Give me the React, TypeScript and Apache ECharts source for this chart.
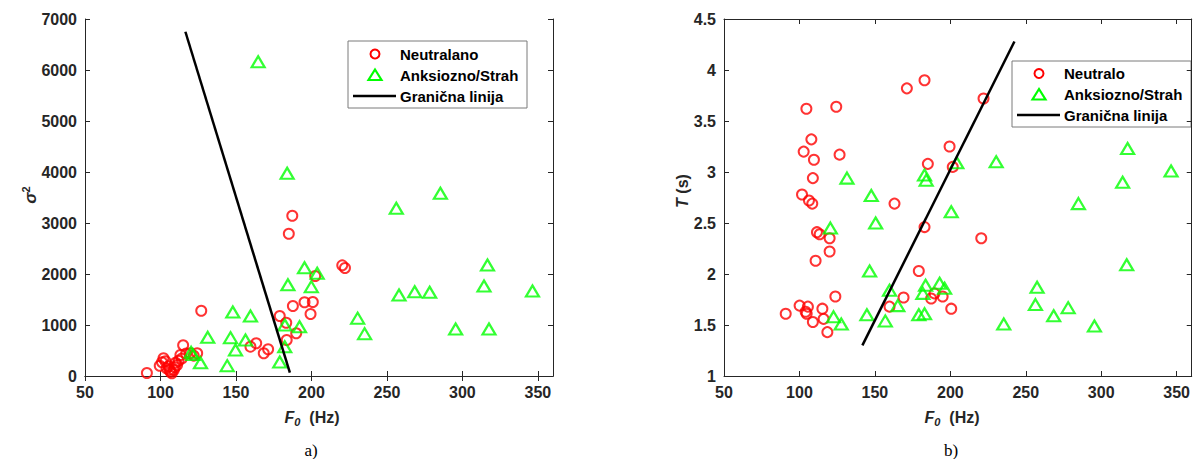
import React, { useEffect, useRef } from "react";
import * as echarts from "echarts";

const xTicks = [50, 100, 150, 200, 250, 300, 350];
const sigmaTicks = [0, 1000, 2000, 3000, 4000, 5000, 6000, 7000];
const tTicks = [1, 1.5, 2, 2.5, 3, 3.5, 4, 4.5];

const leftNames = ["Neutralano", "Anksiozno/Strah", "Granična linija"];
const rightNames = ["Neutralo", "Anksiozno/Strah", "Granična linija"];

// a) F0 (Hz) vs sigma^2
const leftNeutral: [number, number][] = [
  [91, 60], [99.5, 200], [101, 270], [102, 347], [103.3, 290], [104, 150],
  [105.4, 190], [106, 120], [106.6, 84], [107.5, 55], [108.8, 118], [109.5, 170],
  [110, 260], [111, 216], [112, 300], [113.2, 412], [114, 340], [115, 602],
  [117, 440], [119.8, 445], [122, 400], [124.3, 445], [127, 1280],
  [159.6, 575], [163.4, 641], [168.4, 445], [171.3, 524], [179, 1176],
  [183.3, 1045], [183.6, 706], [185, 2790], [187.3, 3143], [187.7, 1373],
  [189.9, 837], [195.4, 1445], [199.4, 1216], [200.9, 1451], [202.5, 1961],
  [220.4, 2170], [222.2, 2118],
];
const leftAnx: [number, number][] = [
  [120.3, 464], [121.5, 420], [126.5, 261], [131.3, 758], [144.2, 203],
  [146.4, 752], [147.9, 1255], [149.7, 510], [156.3, 706], [159.6, 1176],
  [164.7, 6163], [179, 275], [182.3, 575], [182.4, 1000], [183.9, 3974],
  [184.4, 1790], [192.1, 967], [195.4, 2124], [199.9, 1752], [203.8, 2014],
  [230.6, 1134], [235.2, 830], [256.2, 3288], [258, 1588], [268.4, 1653],
  [278.3, 1641], [285.4, 3582], [295.5, 922], [314.3, 1765], [316.6, 2176],
  [317.6, 922], [346.4, 1667],
];
const leftBoundary: [number, number][] = [[116.5, 6750], [185.7, 65]];

// b) F0 (Hz) vs T (s)
const rightNeutral: [number, number][] = [
  [90.9, 1.61], [100.1, 1.69], [101.7, 2.78], [102.8, 3.2], [104.1, 1.63],
  [104.6, 3.62], [104.8, 1.61], [105.6, 1.68], [106.3, 2.72], [107.9, 3.32],
  [108.5, 2.69], [108.9, 1.53], [108.9, 2.94], [109.6, 3.12], [110.7, 2.13],
  [111.6, 2.41], [113.4, 2.39], [115.2, 1.66], [116, 1.56], [118.5, 1.43],
  [120, 2.35], [120, 2.22], [123.8, 1.78], [124.4, 3.64], [126.6, 3.17],
  [159.7, 1.68], [163, 2.69], [169, 1.77], [171.2, 3.82], [179.1, 2.03],
  [182.9, 3.9], [182.9, 2.46], [185.1, 3.08], [187.3, 1.76], [189.5, 1.81],
  [194.9, 1.78], [199.5, 3.25], [200.6, 1.66], [201.6, 3.05], [220.5, 2.35],
  [222, 3.72],
];
const rightAnx: [number, number][] = [
  [120.5, 2.45], [122.6, 1.58], [127.7, 1.51], [131.5, 2.94], [144.7, 1.6],
  [146.5, 2.03], [147.6, 2.77], [150.5, 2.5], [156.9, 1.54], [159.7, 1.84],
  [165.2, 1.69], [179.1, 1.6], [181.8, 1.81], [182.9, 1.61], [182.9, 2.97],
  [183.6, 1.89], [184, 2.92], [192.9, 1.91], [196.2, 1.86], [200.6, 2.61],
  [204.3, 3.09], [230.4, 3.1], [235.4, 1.51], [256.4, 1.7], [257.5, 1.87],
  [268.5, 1.59], [278.1, 1.67], [284.9, 2.69], [295.5, 1.49], [314.2, 2.9],
  [316.9, 2.09], [317.5, 3.23], [346.3, 3.01],
];
const rightBoundary: [number, number][] = [[141.7, 1.3], [242.5, 4.28]];

const AX = "#262626";
const FONT = "Liberation Sans";
const RED = "#ff0000";
const GREEN = "#00ff00";

function xAxes(grid: number) {
  const base = {
    type: "value" as const,
    gridIndex: grid,
    min: 50,
    max: 360,
    interval: 50,
    splitLine: { show: false },
    axisLine: { show: true, lineStyle: { color: AX, width: 1 } },
    axisTick: { show: true, inside: true, length: 5, customValues: xTicks, lineStyle: { color: AX } },
  };
  return [
    {
      ...base,
      position: "bottom",
      axisLabel: {
        customValues: xTicks,
        formatter: (v: number) => String(v),
        margin: 8,
        color: AX,
        fontFamily: FONT,
        fontWeight: "bold",
        fontSize: 16,
      },
    },
    { ...base, position: "top", axisLabel: { show: false } },
  ];
}

function yAxes(grid: number, ticks: number[], min: number, max: number, interval: number) {
  const base = {
    type: "value" as const,
    gridIndex: grid,
    min,
    max,
    interval,
    splitLine: { show: false },
    axisLine: { show: true, lineStyle: { color: AX, width: 1 } },
    axisTick: { show: true, inside: true, length: 5, customValues: ticks, lineStyle: { color: AX } },
  };
  return [
    {
      ...base,
      position: "left",
      axisLabel: {
        customValues: ticks,
        formatter: (v: number) => String(v),
        margin: 8,
        color: AX,
        fontFamily: FONT,
        fontWeight: "bold",
        fontSize: 16,
      },
    },
    { ...base, position: "right", axisLabel: { show: false } },
  ];
}

// Legend drawn as graphic group (box, marker samples, texts)
function legendGraphic(names: string[], x: number, y: number, w: number, h: number, rows: number[]) {
  const mx = x + 27;
  const textStyle = { fontFamily: FONT, fontWeight: "bold", fontSize: 15, fill: "#000", verticalAlign: "middle" };
  return {
    type: "group",
    z: 100,
    children: [
      { type: "rect", shape: { x, y, width: w, height: h }, style: { fill: "#fff", stroke: "#7a7a7a", lineWidth: 1 } },
      { type: "circle", shape: { cx: mx, cy: rows[0], r: 4.5 }, style: { fill: "none", stroke: RED, lineWidth: 2 } },
      {
        type: "polygon",
        shape: { points: [[mx - 6.5, rows[1] + 5], [mx + 6.5, rows[1] + 5], [mx, rows[1] - 5.5]] },
        style: { fill: "none", stroke: GREEN, lineWidth: 2.2 },
      },
      { type: "line", shape: { x1: x + 5, y1: rows[2], x2: x + 48, y2: rows[2] }, style: { stroke: "#000", lineWidth: 2.5 } },
      { type: "text", x: x + 52, y: rows[0], style: { ...textStyle, text: names[0] } },
      { type: "text", x: x + 52, y: rows[1], style: { ...textStyle, text: names[1] } },
      { type: "text", x: x + 52, y: rows[2], style: { ...textStyle, text: names[2] } },
    ],
  };
}

function circleSeries(name: string, data: [number, number][], idx: number) {
  return {
    type: "scatter",
    name,
    xAxisIndex: idx,
    yAxisIndex: idx,
    data,
    symbol: "circle",
    symbolSize: 10,
    itemStyle: { color: "rgba(0,0,0,0)", borderColor: RED, borderWidth: 2 },
    z: 3,
  };
}
function triSeries(name: string, data: [number, number][], idx: number) {
  return {
    type: "scatter",
    name,
    xAxisIndex: idx,
    yAxisIndex: idx,
    data,
    symbol: "triangle",
    symbolSize: [13, 11],
    itemStyle: { color: "rgba(0,0,0,0)", borderColor: GREEN, borderWidth: 2.2 },
    z: 3,
  };
}
function lineSeries(name: string, data: [number, number][], idx: number) {
  return {
    type: "line",
    name,
    xAxisIndex: idx,
    yAxisIndex: idx,
    data,
    symbol: "none",
    lineStyle: { color: "#000", width: 2.5 },
    itemStyle: { color: "#000" },
    z: 4,
  };
}

const boldI = { fontFamily: FONT, fontWeight: "bold", fontStyle: "italic", fontSize: 16, lineHeight: 22, verticalAlign: "middle", fill: AX };
const boldN = { fontFamily: FONT, fontWeight: "bold", fontSize: 16, lineHeight: 22, verticalAlign: "middle", fill: AX };

function xName(cx: number) {
  return {
    type: "text",
    x: cx,
    y: 417,
    style: {
      text: "{f|F}{s|0}{n|  (Hz)}",
      align: "center",
      verticalAlign: "middle",
      rich: {
        f: boldI,
        s: { ...boldI, fontSize: 11, lineHeight: 22, padding: [9, 0, 0, 0] },
        n: boldN,
      },
    },
  };
}

export default function App() {
  const ref = useRef<HTMLDivElement>(null);
  useEffect(() => {
    if (!ref.current) return;
    const chart = echarts.init(ref.current, undefined, { renderer: "svg" });
    const option = {
      animation: false,
      backgroundColor: "#ffffff",
      grid: [
        { left: 85, top: 19, width: 468, height: 357, containLabel: false },
        { left: 724, top: 19, width: 468, height: 357, containLabel: false },
      ],
      xAxis: [...xAxes(0), ...xAxes(1)],
      yAxis: [
        ...yAxes(0, sigmaTicks, 0, 7000, 1000),
        ...yAxes(1, tTicks, 1, 4.5, 0.5),
      ],
      series: [
        lineSeries("Granična linija", leftBoundary, 0),
        circleSeries("Neutralano", leftNeutral, 0),
        triSeries("Anksiozno/Strah", leftAnx, 0),
        lineSeries("Granična linija", rightBoundary, 2),
        circleSeries("Neutralo", rightNeutral, 2),
        triSeries("Anksiozno/Strah", rightAnx, 2),
      ],
      graphic: [
        legendGraphic(leftNames, 348, 41, 179, 67, [54, 75, 96]),
        legendGraphic(rightNames, 1012, 61, 179, 66, [73.5, 94.5, 115]),
        {
          type: "text",
          x: 30,
          y: 195,
          rotation: Math.PI / 2,
          style: {
            text: "{g|σ}{p|2}",
            align: "center",
            verticalAlign: "middle",
            rich: {
              g: { ...boldI, fontSize: 17 },
              p: { ...boldN, fontSize: 11, padding: [0, 0, 9, 0] },
            },
          },
        },
        {
          type: "text",
          x: 682,
          y: 191,
          rotation: Math.PI / 2,
          style: {
            text: "{t|T}{n| (s)}",
            align: "center",
            verticalAlign: "middle",
            rich: { t: boldI, n: boldN },
          },
        },
        xName(312),
        xName(952),
        {
          type: "text",
          x: 311,
          y: 450,
          style: { text: "a)", align: "center", verticalAlign: "middle", fontFamily: "Liberation Serif", fontSize: 17, fill: "#000" },
        },
        {
          type: "text",
          x: 951,
          y: 450,
          style: { text: "b)", align: "center", verticalAlign: "middle", fontFamily: "Liberation Serif", fontSize: 17, fill: "#000" },
        },
      ],
    };
    chart.setOption(option as any);
    return () => chart.dispose();
  }, []);
  return (
    <div
      ref={ref}
      style={{ position: "absolute", left: 0, top: 0, width: 1193, height: 459, background: "#fff" }}
    />
  );
}
